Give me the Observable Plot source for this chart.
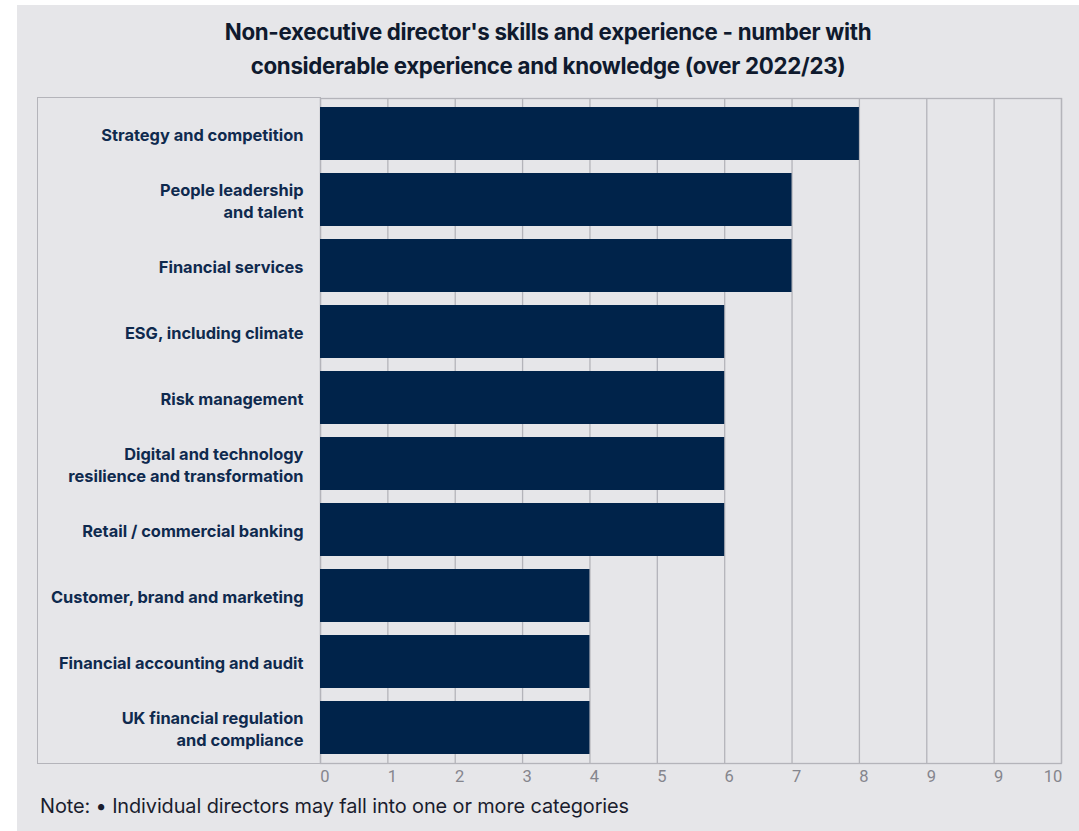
<!DOCTYPE html>
<html>
<head>
<meta charset="utf-8">
<script src="https://cdn.jsdelivr.net/npm/d3@7"></script>
<script src="https://cdn.jsdelivr.net/npm/@observablehq/plot@0.6"></script>
<style>
  html, body { margin: 0; padding: 0; background: #ffffff; width: 1079px; height: 831px; overflow: hidden; }
  #panel { position: absolute; left: 17px; top: 5px; width: 1062px; height: 826px; background: #e6e6e9; }
  #title { position: absolute; left: 17px; top: 15px; width: 1062px; text-align: center;
    font-family: Inter, "Noto Sans", sans-serif; font-weight: 700; font-size: 22.3px; line-height: 34px;
    color: #0f1a2e; letter-spacing: -0.3px; }
  #leftbox { position: absolute; left: 37px; top: 97px; width: 283px; height: 665px;
    border: 1px solid #b4b4ba; border-right: none; }
  #chart { position: absolute; left: 0; top: 90px; }
  #note { position: absolute; left: 40px; top: 794px; font-family: Inter, "Noto Sans", sans-serif;
    font-size: 19.9px; color: #1a1d2e; letter-spacing: -0.1px; }
</style>
</head>
<body>
<div id="panel"></div>
<div id="title">Non-executive director's skills and experience - number with<br>considerable experience and knowledge (over 2022/23)</div>
<div id="leftbox"></div>
<div id="chart"></div>
<div id="note">Note: • Individual directors may fall into one or more categories</div>
<script>
const categories = [
  "Strategy and competition",
  "People leadership and talent",
  "Financial services",
  "ESG, including climate",
  "Risk management",
  "Digital and technology resilience and transformation",
  "Retail / commercial banking",
  "Customer, brand and marketing",
  "Financial accounting and audit",
  "UK financial regulation and compliance"
];
const categoryLabels = [
  "Strategy and competition",
  "People leadership\nand talent",
  "Financial services",
  "ESG, including climate",
  "Risk management",
  "Digital and technology\nresilience and transformation",
  "Retail / commercial banking",
  "Customer, brand and marketing",
  "Financial accounting and audit",
  "UK financial regulation\nand compliance"
];
const values = [8, 7, 7, 6, 6, 6, 6, 4, 4, 4];
const tickValues = [0, 1, 2, 3, 4, 5, 6, 7, 8, 9, 10, 11];
const tickLabels = ["0", "1", "2", "3", "4", "5", "6", "7", "8", "9", "9", "10"];

const data = categories.map((c, i) => ({category: c, value: values[i]}));
const labelOf = new Map(categories.map((c, i) => [c, categoryLabels[i]]));
const tickLabelOf = new Map(tickValues.map((v, i) => [v, tickLabels[i]]));

const gridColor = "#b4b4ba";
const tickStyle = {
  fontFamily: "'Liberation Sans Narrow', Roboto, sans-serif", fontSize: 16.5, fill: "#85858d",
  frameAnchor: "bottom", lineAnchor: "top", dy: 7
};
const chart = Plot.plot({
  width: 1079,
  height: 703,
  marginLeft: 320,
  marginRight: 18,
  marginTop: 8,
  marginBottom: 30,
  style: {background: "transparent", overflow: "visible"},
  x: {domain: [0, 11], axis: null},
  y: {domain: categories, paddingInner: 0.2, paddingOuter: 0.13},
  marks: [
    Plot.gridX(tickValues, {stroke: gridColor, strokeOpacity: 1, strokeWidth: 1.3}),
    Plot.frame({stroke: gridColor, strokeWidth: 1.3}),
    Plot.barX(data, {x: "value", y: "category", fill: "#00234a"}),
    Plot.axisY({
      tickSize: 0, tickPadding: 17, label: null,
      tickFormat: d => labelOf.get(d),
      fontFamily: "Inter, 'Noto Sans', sans-serif", fontSize: 16.4, fontWeight: 700,
      fill: "#0f2a4e", lineHeight: 1.35
    }),
    Plot.text(tickValues.slice(0, -1), {x: d => d, text: d => tickLabelOf.get(d), dx: 4.5, ...tickStyle}),
    Plot.text(tickValues.slice(-1), {x: d => d, text: d => tickLabelOf.get(d), dx: -8.5, ...tickStyle})
  ]
});
document.getElementById("chart").appendChild(chart);
</script>
</body>
</html>
